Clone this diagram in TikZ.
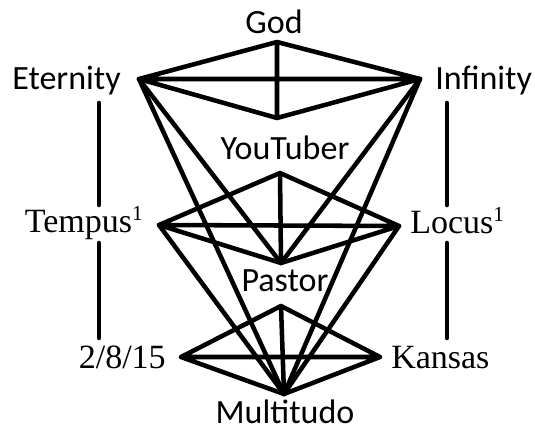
\documentclass[tikz,border=0pt]{standalone}
\usepackage{fontspec}
\setmainfont{Liberation Serif}
\newfontfamily\calib{Carlito}
\usetikzlibrary{positioning}
\newcommand{\exposant}[1]{\raisebox{0.75ex}{\fontsize{16}{16}\selectfont #1}}
\begin{document}
\begin{tikzpicture}[x=0.75pt, y=-0.75pt, line width=3.4pt, line cap=round, line join=round,
	sans/.style={font=\calib\fontsize{25.5}{30}\selectfont, inner sep=0pt, anchor=base},
	serif/.style={font=\fontsize{25.5}{30}\selectfont, inner sep=0pt, anchor=base}]
				\useasboundingbox (0,0) rectangle (535,432);
				
				% Sommets des trois losanges
				\coordinate (ttop) at (277,42);  \coordinate (tbot) at (277,118);
				\coordinate (tleft) at (139,79); \coordinate (tright) at (420,79);
				\coordinate (mtop) at (280,173); \coordinate (mbot) at (281,263);
				\coordinate (mleft) at (159,225); \coordinate (mright) at (399,226);
				\coordinate (btop) at (281,306); \coordinate (bbot) at (284,394);
				\coordinate (bleft) at (181,357); \coordinate (bright) at (380,357);
				
				% Etiquettes
				\node[sans] (god) at (274,33) {God};
				\node[sans, anchor=base east] (eternity) at (123,89) {Eternity};
				\node[sans, anchor=base west] (infinity) at (433,89) {Infinity};
				\node[sans] (youtuber) at (285,159) {YouTuber};
				\node[serif, anchor=base east] (tempus) at (145,232) {Tempus\exposant{1}};
				\node[serif, anchor=base west] (locus) at (408,233) {Locus\exposant{1}};
				\node[sans] (pastor) at (285,291) {Pastor};
				\node[serif, anchor=base east] (date) at (168,368) {2/8/15};
				\node[serif, anchor=base west] (kansas) at (389,368) {Kansas};
				\node[sans] (multitudo) at (285,423) {Multitudo};
				
				% Losanges
				\foreach \t in {t,m,b}
					\draw (\t left) -- (\t top) -- (\t right) -- (\t bot) -- cycle
						(\t left) -- (\t right) (\t top) -- (\t bot);
				
				% Liaisons entre niveaux
				\foreach \a/\b in {tleft/mbot, tleft/bbot, tright/mbot, tright/bbot, mleft/bbot, mright/bbot}
					\draw (\a) -- (\b);
				
				% Barres verticales
				\foreach \x/\n in {99/l, 447/r} {
					\coordinate (\n1a) at (\x,103); \coordinate (\n1b) at (\x,205);
					\coordinate (\n2a) at (\x,243); \coordinate (\n2b) at (\x,338);
					\draw (\n1a) -- (\n1b) (\n2a) -- (\n2b);
				}
			\end{tikzpicture}
\end{document}
